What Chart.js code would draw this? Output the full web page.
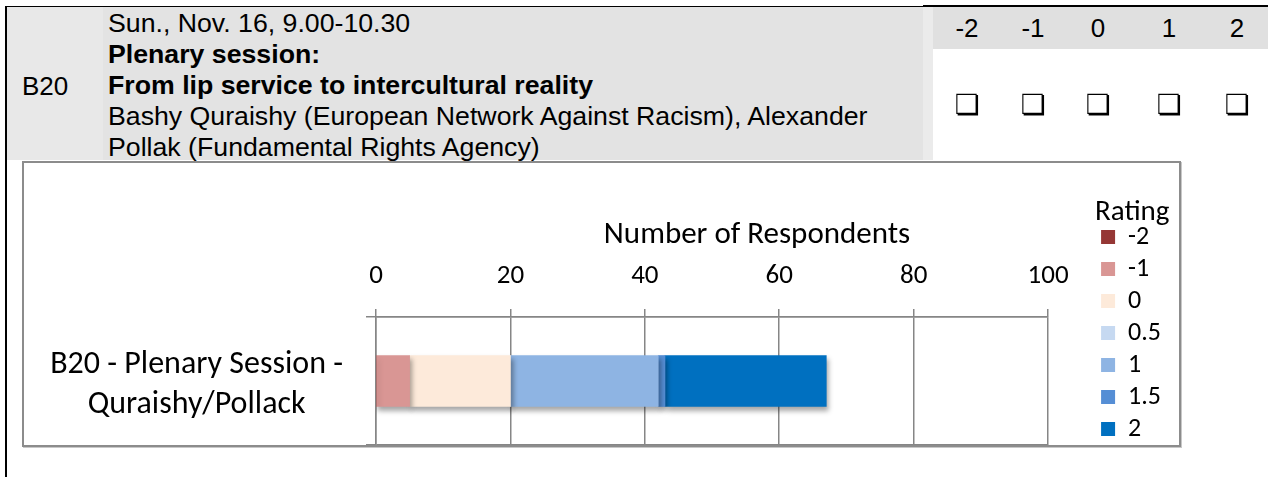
<!DOCTYPE html>
<html lang="en">
<head>
    <meta charset="UTF-8">
    <title>B20 - Plenary Session</title>
    <style>
        body { margin: 0; background: #fff; }
        #page { position: relative; width: 1268px; height: 477px; overflow: hidden; font-family: "Liberation Sans", Arial, sans-serif; color: #000; }
        .abs { position: absolute; }
        .col { position: absolute; width: 40px; margin-left: -20px; text-align: center; font-size: 26px; line-height: 30px; }
        .box { font-family: "DejaVu Sans", sans-serif; font-size: 28px; color: #000; filter: grayscale(1); }
    </style>
</head>
<body>
<div id="page">
    <!-- table header -->
    <div class="abs" style="left:7px;top:7px;width:96px;height:153px;background:#e8e8e8;"></div>
    <div class="abs" style="left:103px;top:7px;width:820px;height:153px;background:#e3e3e3;"></div>
    <div class="abs" style="left:923px;top:7px;width:10px;height:153px;background:#ebebeb;"></div>
    <div class="abs" style="left:933px;top:7px;width:335px;height:42px;background:#e0e0e0;"></div>
    <div class="abs" style="left:5px;top:6px;width:918px;height:1px;background:#000;"></div>
    <div class="abs" style="left:923px;top:5px;width:345px;height:2px;background:#000;"></div>
    <div class="abs" style="left:5px;top:6px;width:2px;height:471px;background:#000;"></div>

    <div class="abs" style="left:22px;top:71px;font-size:26px;line-height:31px;">B20</div>
    <div class="abs" style="left:108px;top:8px;font-size:26.7px;line-height:31px;white-space:nowrap;">
        Sun., Nov. 16, 9.00-10.30<br>
        <b>Plenary session:</b><br>
        <b>From lip service to intercultural reality</b><br>
        Bashy Quraishy (European Network Against Racism), Alexander<br>
        Pollak (Fundamental Rights Agency)
    </div>
    <div id="scaleRow"></div>

    <!-- chart -->
    <div class="abs" style="left:22px;top:161px;width:1155px;height:282px;border:2px solid #8c8c8c;box-shadow:1px 1px 0 #c8c8c8;">
        <canvas id="myChart" width="1155" height="282"></canvas>
    </div>
</div>

<script src="https://cdn.jsdelivr.net/npm/chart.js"></script>
<script>
    // rating scale in the table header
    const scaleLabels = ['-2', '-1', '0', '1', '2'];
    const scaleX = [967, 1033, 1098, 1169, 1237];

    // chart data
    const ratings = ['-2', '-1', '0', '0.5', '1', '1.5', '2'];
    const ratingColors = ['#953735', '#d99694', '#fdeada', '#c6d9f1', '#8eb4e3', '#558ed5', '#0070c0'];
    const sessions = [['B20 - Plenary Session -', 'Quraishy/Pollack']];
    const respondents = [0, 5, 15, 0, 22, 1, 24];
    const xTicks = [0, 20, 40, 60, 80, 100];
    const axisTitle = 'Number of Respondents';

    let v_html = '';
    for (let i = 0; i < scaleLabels.length; i++) {
        v_html += '<div class="col" style="left:' + scaleX[i] + 'px;top:13px;">' + scaleLabels[i] + '</div>';
        v_html += '<div class="col box" style="left:' + scaleX[i] + 'px;top:90px;">\u274F</div>';
    }
    document.querySelector('#scaleRow').innerHTML = v_html;

    Chart.defaults.font.family = 'Carlito, Lato, sans-serif';
    Chart.defaults.color = '#000';

    const gridGray = '#868686';

    // soft shadow under the bar, like the office chart
    const barShadow = {
        id: 'barShadow',
        beforeDatasetsDraw(chart) {
            const c = chart.ctx;
            c.save();
            c.shadowColor = 'rgba(0,0,0,0.35)';
            c.shadowBlur = 5;
            c.shadowOffsetX = 2;
            c.shadowOffsetY = 4;
        },
        afterDatasetsDraw(chart) {
            chart.ctx.restore();
        }
    };

    // axis title sits a bit right of the plot centre in the original
    const topTitle = {
        id: 'topTitle',
        afterDraw(chart) {
            const c = chart.ctx;
            const area = chart.chartArea;
            c.save();
            c.font = '31px Carlito, Lato, sans-serif';
            c.fillStyle = '#000';
            c.textAlign = 'center';
            c.textBaseline = 'middle';
            c.fillText(axisTitle, (area.left + area.right) / 2 + 45, 72);
            c.restore();
        }
    };

    const noPad = s => { s.paddingTop = 0; s.paddingBottom = 0; s.paddingLeft = 0; s.paddingRight = 0; };

    const ctx = document.querySelector('#myChart');
    let v_chart = new Chart(ctx, {
        type: 'bar',
        data: {
            labels: sessions,
            datasets: ratings.map((r, i) => ({
                label: r,
                data: [respondents[i]],
                backgroundColor: ratingColors[i],
                borderWidth: 0,
                barThickness: 51
            }))
        },
        options: {
            indexAxis: 'y',
            responsive: false,
            animation: false,
            layout: { padding: { left: 0, top: 0, right: 8, bottom: -25 } },
            scales: {
                x: {
                    position: 'top',
                    stacked: true,
                    min: 0,
                    max: 100,
                    afterBuildTicks: s => { s.ticks = xTicks.map(v => ({ value: v })); },
                    ticks: { color: '#000', font: { size: 27 }, padding: 17 },
                    grid: { color: gridGray, lineWidth: 1.5, tickLength: 8 },
                    border: { color: gridGray, width: 1.5 },
                    afterFit: s => { noPad(s); s.height = 154; }
                },
                y: {
                    stacked: true,
                    ticks: { crossAlign: 'center', color: '#000', font: { size: 32, lineHeight: 1.25 }, padding: 23, labelOffset: 4 },
                    grid: { offset: true, color: gridGray, lineWidth: 1.5, tickLength: 10 },
                    border: { color: gridGray, width: 1.5 },
                    afterFit: s => { noPad(s); s.width = 352; }
                },
                // empty spacer between plot and legend
                gap: {
                    type: 'linear',
                    axis: 'y',
                    position: 'right',
                    grid: { display: false },
                    ticks: { display: false },
                    border: { display: false },
                    afterFit: s => { noPad(s); s.width = 47; }
                },
                // empty spacer below the plot, lets the legend run past the bottom edge
                below: {
                    type: 'linear',
                    axis: 'x',
                    position: 'bottom',
                    grid: { display: false },
                    ticks: { display: false },
                    border: { display: false },
                    afterFit: s => { noPad(s); s.height = 25; }
                }
            },
            plugins: {
                tooltip: { enabled: false },
                legend: {
                    position: 'right',
                    align: 'start',
                    title: {
                        display: true,
                        text: 'Rating',
                        color: '#000',
                        position: 'start',
                        font: { size: 29, lineHeight: 1 },
                        padding: { top: 35, bottom: -9 }
                    },
                    labels: { boxWidth: 14, boxHeight: 14, color: '#000', font: { size: 26 }, padding: 6 }
                }
            }
        },
        plugins: [barShadow, topTitle]
    });
</script>
</body>
</html>
